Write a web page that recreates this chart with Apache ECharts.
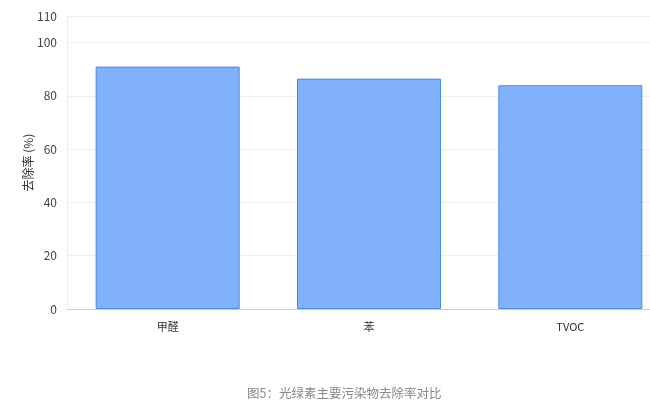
<!DOCTYPE html>
<html>
<head>
<meta charset="utf-8">
<script src="https://cdn.jsdelivr.net/npm/echarts@6/dist/echarts.min.js"></script>
<style>
html, body { margin: 0; padding: 0; background: #fff; }
#main { width: 650px; height: 401px; }
</style>
</head>
<body>
<div id="main"></div>
<script>
var categories = ['甲醛', '苯', 'TVOC'];
var removalRates = [91, 86.5, 84];
var yTicksMax = 110;

var myChart = echarts.init(document.getElementById('main'));

var option = {
    animation: false,
    textStyle: { fontFamily: 'Noto Sans CJK SC, Noto Sans, sans-serif' },
    title: {
        text: '图5：光绿素主要污染物去除率对比',
        left: 242,
        top: 382,
        textStyle: {
            fontSize: 12.5,
            fontWeight: 'normal',
            color: '#888',
            fontFamily: 'Noto Sans CJK SC, serif'
        }
    },
    grid: {
        left: 67,
        top: 16,
        right: -21,
        bottom: 92,
        outerBoundsMode: 'none',
        containLabel: false
    },
    xAxis: {
        type: 'category',
        data: categories,
        axisTick: { show: false },
        axisLine: { lineStyle: { color: '#ccc' } },
        axisLabel: { color: '#333', fontSize: 11, margin: 12 }
    },
    yAxis: {
        type: 'value',
        min: 0,
        max: yTicksMax,
        interval: 20,
        name: '去除率 (%)',
        nameLocation: 'middle',
        nameGap: 33,
        nameMoveOverlap: false,
        nameTextStyle: { color: '#333', fontSize: 12 },
        axisLine: { show: true, lineStyle: { color: '#eee' } },
        axisTick: { show: false },
        axisLabel: { color: '#444', fontSize: 12, margin: 10 },
        splitLine: { lineStyle: { color: '#eee' } }
    },
    series: [{
        type: 'bar',
        data: removalRates,
        barWidth: 144,
        itemStyle: {
            color: '#82b1fb',
            borderColor: '#4a8ae6',
            borderWidth: 1
        }
    }]
};

myChart.setOption(option);
</script>
</body>
</html>
